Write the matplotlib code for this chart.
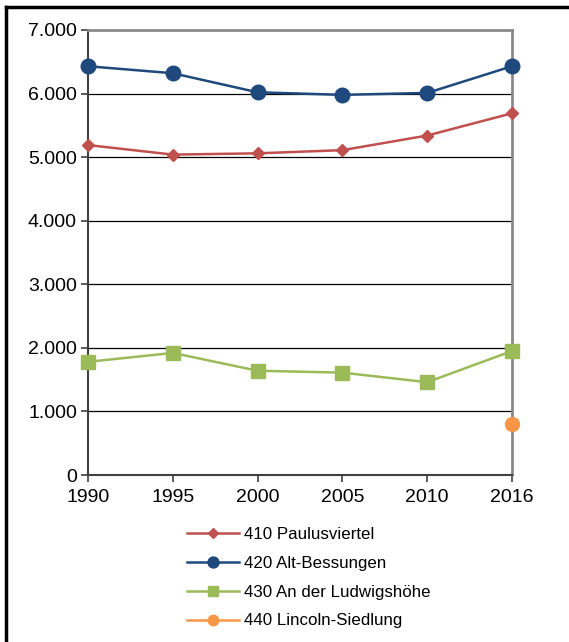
import matplotlib
matplotlib.use('Agg')
import matplotlib.pyplot as plt
from matplotlib.lines import Line2D
import numpy as np

plt.rcParams['font.family'] = ['Liberation Sans', 'DejaVu Sans']

YEARS = ['1990', '1995', '2000', '2005', '2010', '2016']
PAULUS   = [5190, 5040, 5060, 5110, 5340, 5690]
ALTBESS  = [6430, 6320, 6020, 5980, 6010, 6430]
LUDWIG   = [1780, 1920, 1640, 1610, 1460, 1950]
LINCOLN  = [None, None, None, None, None, 800]

SERIES = [
    ('410 Paulusviertel',     PAULUS,  '#C0504D', 'D', 6.5),
    ('420 Alt-Bessungen',     ALTBESS, '#1F497D', 'o', 10.5),
    ('430 An der Ludwigshöhe', LUDWIG, '#9BBB59', 's', 10),
    ('440 Lincoln-Siedlung',  LINCOLN, '#F79646', 'o', 10),
]

fig = plt.figure(figsize=(5.69, 6.42), dpi=100)
ax = fig.add_axes([88 / 569, 1 - 475 / 642, (512 - 88) / 569, (475 - 30) / 642])

x = np.arange(len(YEARS))
for label, vals, color, marker, ms in SERIES:
    y = np.array([np.nan if v is None else v for v in vals], dtype=float)
    ax.plot(x, y, color=color, lw=1.8, marker=marker, markersize=ms,
            label=label, zorder=3, clip_on=False)

ax.set_xlim(0, len(YEARS) - 1)
ax.set_ylim(0, 7000)
ax.set_xticks(x)
ax.set_xticklabels(YEARS)
yt = np.arange(0, 7001, 1000)
ax.set_yticks(yt)
ax.set_yticklabels(['0'] + [f'{v // 1000}.000' for v in yt[1:]])
ax.tick_params(axis='both', labelsize=14, direction='out', length=5,
               width=1.2, color='#404040', pad=3)
ax.tick_params(axis='x', pad=5)

for v in yt[1:-1]:
    ax.axhline(v, color='black', lw=0.9, zorder=1)

ax.spines['top'].set_color('#8a8a8a')
ax.spines['top'].set_linewidth(2)
ax.spines['right'].set_color('#8a8a8a')
ax.spines['right'].set_linewidth(2)
ax.spines['left'].set_color('#404040')
ax.spines['left'].set_linewidth(1.5)
ax.spines['bottom'].set_color('#404040')
ax.spines['bottom'].set_linewidth(1.5)

handles = [Line2D([0], [0], color=c, lw=1.8, marker=m,
                  markersize=ms * 0.75) for _, _, c, m, ms in SERIES]
labels = [s[0] for s in SERIES]
fig.legend(handles, labels, loc='upper left',
           bbox_to_anchor=(180 / 569, 1 - 520 / 642),
           frameon=False, fontsize=12.2, handlelength=3.1,
           labelspacing=0.82, handletextpad=0.3, borderaxespad=0)

# outer frame (top and left edges)
fig.add_artist(Line2D([6 / 569, 1], [1 - 7 / 642, 1 - 7 / 642],
                      color='black', lw=2.5, transform=fig.transFigure))
fig.add_artist(Line2D([6 / 569, 6 / 569], [0, 1 - 7 / 642],
                      color='black', lw=2.5, transform=fig.transFigure))

fig.savefig('out.png', dpi=100)
